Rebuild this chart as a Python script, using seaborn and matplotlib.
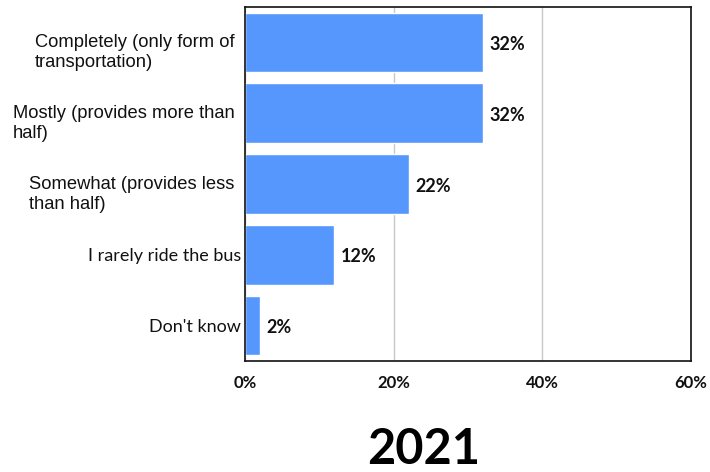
import matplotlib
matplotlib.use("Agg")
import matplotlib.pyplot as plt
import matplotlib.transforms as mtransforms
import seaborn as sns
import pandas as pd

categories = [
    "Completely (only form of\ntransportation)",
    "Mostly (provides more than\nhalf)",
    "Somewhat (provides less\nthan half)",
    "I rarely ride the bus",
    "Don't know",
]
values = [32, 32, 22, 12, 2]
xticks = [0, 20, 40, 60]
xtick_labels = ["0%", "20%", "40%", "60%"]
title = "2021"

sns.set_theme(style="white")
plt.rcParams["font.family"] = ["Liberation Sans", "DejaVu Sans"]

df = pd.DataFrame({"category": categories, "value": values})

fig = plt.figure(figsize=(7.1, 4.72), dpi=100)
ax = fig.add_axes([245 / 710, 1 - 361 / 472, (691 - 245) / 710, (361 - 7) / 472])

sns.barplot(data=df, y="category", x="value", color="#5597fd", width=0.84,
            saturation=1, ax=ax, orient="h")

ax.set_xlim(0, 60)
ax.set_ylim(4.5, -0.5)
ax.set_xticks(xticks)
ax.set_xticklabels(xtick_labels, fontfamily="Lato", fontweight="bold", fontsize=12)
ax.tick_params(axis="x", length=0, pad=10, colors="#111111")
ax.tick_params(axis="y", length=0, pad=3)
ax.set_xlabel("")
ax.set_ylabel("")

ax.grid(axis="x", color="#c8c8c8", linewidth=1)
ax.set_axisbelow(True)
for sp in ax.spines.values():
    sp.set_visible(True)
    sp.set_color("#111111")
    sp.set_linewidth(1.2)

# category labels: the wrapped ones in a sans serif sitting a little low,
# the short ones in a rounder face
shift_wrapped = mtransforms.ScaledTranslation(-6 / 100, -7 / 100, fig.dpi_scale_trans)
ylabels = ax.get_yticklabels()
for i, lab in enumerate(ylabels):
    lab.set_multialignment("left")
    lab.set_linespacing(1.2)
    lab.set_color("#111111")
    if i < 3:
        lab.set_fontfamily("Liberation Sans")
        lab.set_fontsize(13.2)
        lab.set_transform(lab.get_transform() + shift_wrapped)
    else:
        lab.set_fontfamily("Lato")
        lab.set_fontsize(13)

# value labels at the end of each bar
for i, v in enumerate(values):
    ax.text(v + 0.9, i + 0.03, f"{v}%", va="center", ha="left", fontfamily="Lato",
            fontweight="bold", fontsize=13, color="#111111")

fig.text(424 / 710, 1 - 449 / 472, title, ha="center", va="center",
         fontfamily="Lato", fontweight="bold", fontsize=35, color="#000000")

fig.savefig("out.png", dpi=100)
